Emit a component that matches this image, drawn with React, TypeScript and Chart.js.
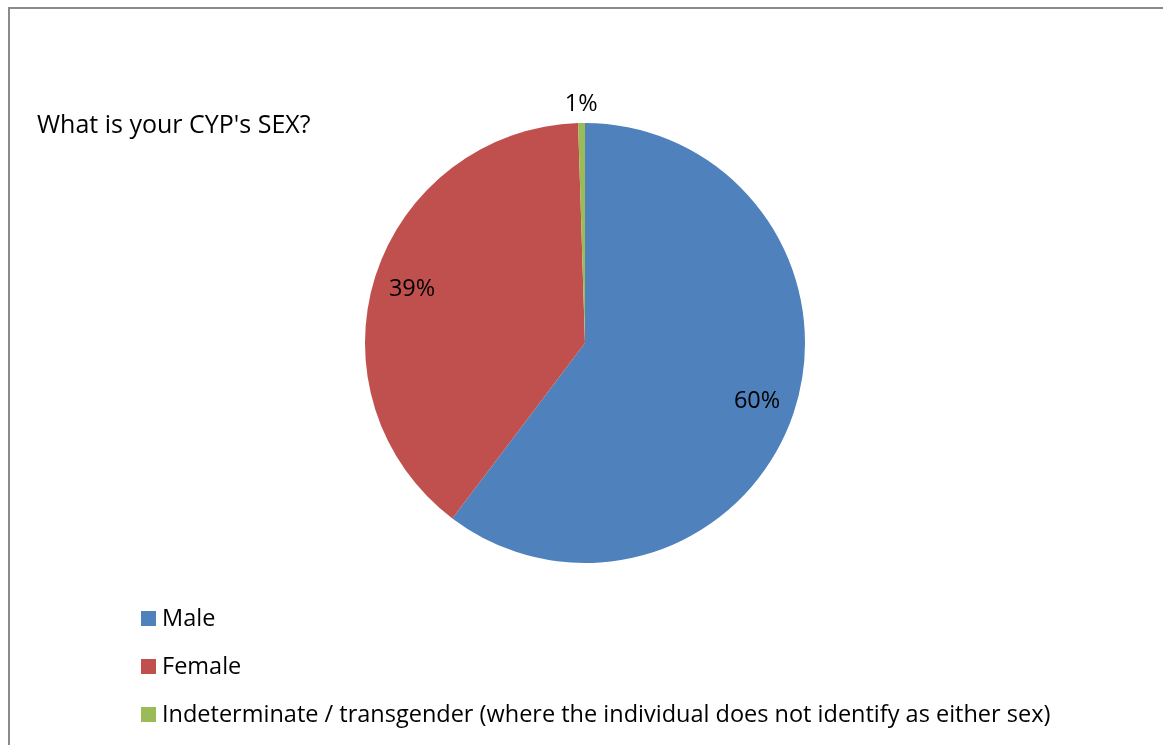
import { useEffect, useRef } from "react";
import { Chart, registerables } from "chart.js";

Chart.register(...registerables);

// Survey answers: share of respondents (%) per category
const categories = [
  "Male",
  "Female",
  "Indeterminate / transgender (where the individual does not identify as either sex)",
];
const shares = [60.3, 39.2, 0.5];
const sliceColors = ["#4F81BD", "#C0504D", "#9BBB59"];
const chartTitle = "What is your CYP's SEX?";

const FONT = "'Open Sans', Lato, sans-serif";
const TITLE_SIZE = 25;
const TEXT_SIZE = 23.5;
const ASCENT = 1.069;

// Percentage labels: inside the slice near the rim, or just outside for tiny slices
const pctLabels = {
  id: "pctLabels",
  afterDatasetsDraw(chart: any) {
    const meta = chart.getDatasetMeta(0);
    const ctx = chart.ctx;
    const values = chart.data.datasets[0].data as number[];
    const total = values.reduce((a, b) => a + b, 0);
    ctx.save();
    ctx.font = `${TEXT_SIZE}px ${FONT}`;
    ctx.fillStyle = "#000";
    ctx.textAlign = "center";
    ctx.textBaseline = "middle";
    meta.data.forEach((arc: any, i: number) => {
      const p = arc.getProps(["x", "y", "startAngle", "endAngle", "outerRadius"], true);
      const mid = (p.startAngle + p.endAngle) / 2;
      const frac = values[i] / total;
      const r = frac < 0.05 ? p.outerRadius * 1.09 : p.outerRadius * 0.825;
      const label = Math.round(frac * 100) + "%";
      ctx.fillText(label, p.x + Math.cos(mid) * r, p.y + Math.sin(mid) * r + 1);
    });
    ctx.restore();
  },
};

export default function App() {
  const canvasRef = useRef<HTMLCanvasElement | null>(null);

  useEffect(() => {
    if (!canvasRef.current) return;
    const chart = new Chart(canvasRef.current, {
      type: "pie",
      data: {
        labels: categories,
        datasets: [
          {
            data: shares,
            backgroundColor: sliceColors,
            borderWidth: 0,
          },
        ],
      },
      options: {
        responsive: false,
        animation: false,
        layout: { padding: { left: 365, top: 123, right: 358, bottom: 182 } },
        plugins: {
          legend: { display: false },
          title: { display: false },
          tooltip: { enabled: false },
        },
      },
      plugins: [pctLabels],
    });
    return () => chart.destroy();
  }, []);

  const textStyle = {
    position: "absolute" as const,
    fontFamily: FONT,
    fontSize: TEXT_SIZE,
    lineHeight: "normal",
    color: "#000",
    whiteSpace: "nowrap" as const,
  };

  const legendTops = [611, 659, 707];

  return (
    <div
      style={{
        position: "fixed",
        left: 0,
        top: 0,
        width: 1163,
        height: 745,
        overflow: "hidden",
        background: "#fff",
      }}
    >
      <div
        style={{
          position: "absolute",
          left: 8,
          top: 7,
          width: 1300,
          height: 900,
          border: "2px solid #8a8a8a",
          boxSizing: "border-box",
        }}
      />
      <canvas
        ref={canvasRef}
        width={1163}
        height={745}
        style={{ position: "absolute", left: 0, top: 0 }}
      />
      <div
        style={{
          ...textStyle,
          fontSize: TITLE_SIZE,
          left: 37,
          top: 133 - ASCENT * TITLE_SIZE,
        }}
      >
        {chartTitle}
      </div>
      {categories.map((name, i) => (
        <div key={name}>
          <div
            style={{
              position: "absolute",
              left: 141,
              top: legendTops[i],
              width: 15,
              height: 15,
              background: sliceColors[i],
            }}
          />
          <div style={{ ...textStyle, left: 162, top: legendTops[i] + 15 - ASCENT * TEXT_SIZE }}>
            {name}
          </div>
        </div>
      ))}
    </div>
  );
}
